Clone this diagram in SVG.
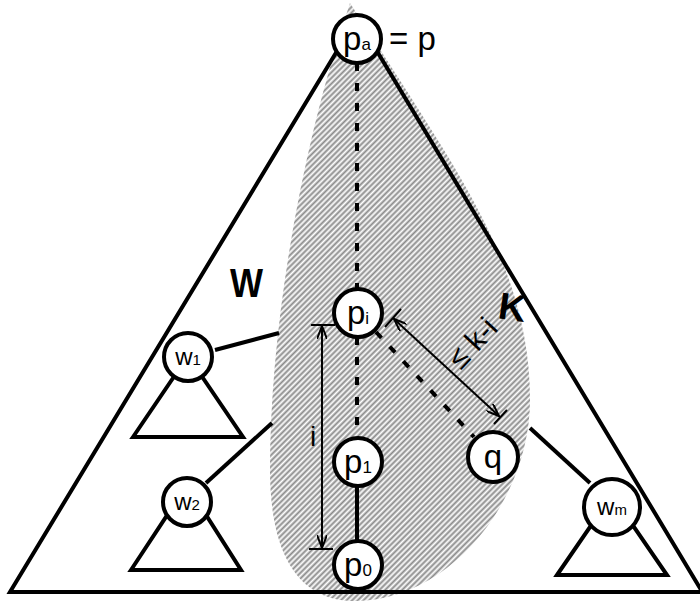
<svg xmlns="http://www.w3.org/2000/svg" width="700" height="601" viewBox="0 0 700 601">
<style>
.ln{stroke:#000;stroke-width:4;fill:none;stroke-linecap:butt}
.dash{stroke:#000;stroke-width:4;fill:none;stroke-dasharray:8 12}
.thin{stroke:#000;stroke-width:2;fill:none}
.nd{fill:#fff;stroke:#000;stroke-width:4}
.lb{font-family:"Liberation Sans",Arial,sans-serif;fill:#000}
.big{font-size:33px}
.sub{font-size:17px}
.w{font-size:24px}
.wsub{font-size:15px}
</style>
<defs>
<pattern id="hatch" width="4" height="4" patternUnits="userSpaceOnUse" patternTransform="rotate(45)">
<rect width="4" height="4" fill="#fff"/>
<line x1="1.5" y1="0" x2="1.5" y2="4" stroke="#8a8a8a" stroke-width="2"/>
</pattern>
<marker id="arr" markerUnits="userSpaceOnUse" viewBox="0 0 14 10" markerWidth="14" markerHeight="10" refX="13" refY="5" orient="auto-start-reverse">
<path d="M0,0 L13,5 L0,10" fill="none" stroke="#000" stroke-width="2"/>
</marker>
</defs>
<g id="shade">
<path d="M350,3 L401,82 C470,190 530,280 530,400 C530,500 450,601 355,601 C290,601 270,540 270,470 C270,330 300,150 350,3 Z" fill="url(#hatch)"/>
</g>
<g id="connectors">
<path class="ln" d="M357,18 L10,592 L700,592 M357,18 L703,593"/>
<line class="dash" x1="357" y1="63" x2="357" y2="289"/>
<line class="dash" x1="357" y1="337" x2="357" y2="438"/>
<line class="dash" x1="376" y1="332" x2="474" y2="437"/>
<line class="ln" x1="357" y1="486" x2="357" y2="541"/>
<line class="ln" x1="215" y1="350" x2="279" y2="333"/>
<line class="ln" x1="206" y1="483" x2="272" y2="423"/>
<line class="ln" x1="530" y1="428" x2="590" y2="483"/>
<path class="ln" d="M133,437 L188,356 L243,437 Z"/>
<path class="ln" d="M131,570 L187,485 L241,570 Z"/>
<path class="ln" d="M557,575 L612,495 L667,575 Z"/>
<line class="thin" x1="322" y1="326" x2="322" y2="548" marker-start="url(#arr)" marker-end="url(#arr)"/>
<line class="thin" x1="311" y1="325" x2="335" y2="325"/>
<line class="thin" x1="309" y1="549" x2="333" y2="549"/>
<line class="thin" x1="394" y1="319" x2="499" y2="416" marker-start="url(#arr)" marker-end="url(#arr)"/>
<line class="thin" x1="385" y1="327" x2="401" y2="309"/>
<line class="thin" x1="494" y1="424" x2="507" y2="410"/>
</g>
<g id="pa"><circle class="nd" cx="357" cy="39" r="24"/><text class="lb big" x="357" y="50" text-anchor="middle">p<tspan class="sub">a</tspan></text></g>
<text class="lb big" x="389" y="50">= p</text>
<g id="pi"><circle class="nd" cx="358" cy="313" r="24"/><text class="lb big" x="358" y="324" text-anchor="middle">p<tspan class="sub">i</tspan></text></g>
<g id="p1"><circle class="nd" cx="358" cy="462" r="24"/><text class="lb big" x="358" y="473" text-anchor="middle">p<tspan class="sub">1</tspan></text></g>
<g id="p0"><circle class="nd" cx="358" cy="565" r="24"/><text class="lb big" x="358" y="576" text-anchor="middle">p<tspan class="sub">0</tspan></text></g>
<g id="q"><circle class="nd" cx="493" cy="457" r="25"/><text class="lb big" x="493" y="468" text-anchor="middle">q</text></g>
<g id="w1"><circle class="nd" cx="188" cy="357" r="24"/><text class="lb w" x="188" y="365" text-anchor="middle">w<tspan class="wsub">1</tspan></text></g>
<g id="w2"><circle class="nd" cx="187" cy="502" r="24"/><text class="lb w" x="187" y="510" text-anchor="middle">w<tspan class="wsub">2</tspan></text></g>
<g id="wm"><circle class="nd" cx="612" cy="507" r="28"/><text class="lb w" x="612" y="515" text-anchor="middle">w<tspan class="wsub">m</tspan></text></g>
<g id="labels">
<text class="lb" x="230" y="297" font-size="40" font-weight="bold" textLength="33" lengthAdjust="spacingAndGlyphs">W</text>
<text class="lb" x="499" y="320" font-size="38" font-weight="bold" transform="rotate(8 511 305)">K</text>
<text class="lb" x="313" y="446" font-size="28" text-anchor="middle">i</text>
<text class="lb" font-size="30" text-anchor="middle" transform="translate(480,350) rotate(-47)">≤ k-i</text>
</g>
</svg>
